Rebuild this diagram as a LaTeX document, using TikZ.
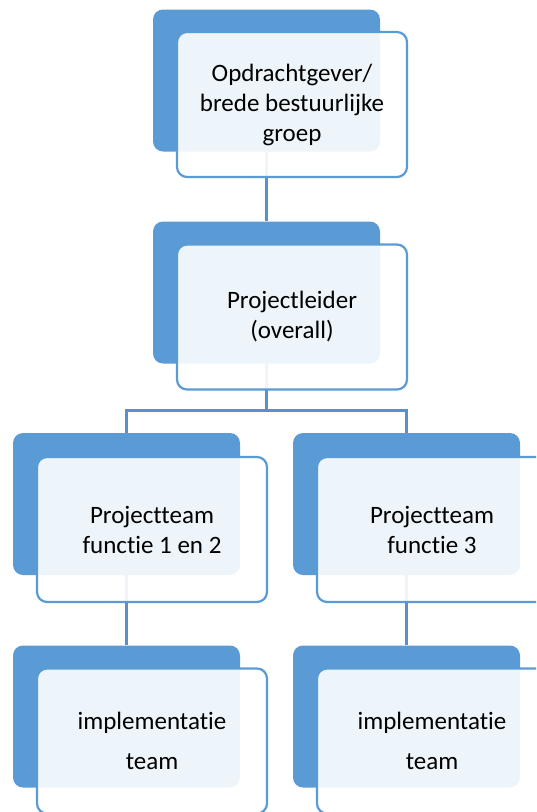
\documentclass[tikz,border=0pt]{standalone}
\usepackage{fontspec}
\setmainfont[Ligatures=NoCommon]{Carlito}
\definecolor{boxblue}{HTML}{5B9BD5}
\definecolor{lineblue}{HTML}{5A8FCB}
\usepackage{tikz}
\usetikzlibrary{positioning, calc}
\newcommand{\relation}[3]
{
	\draw[link] (#3.south) -- +(0,#1) -| (#2.north)
}

\begin{document}
\begin{tikzpicture}[x=1pt, y=-1pt,
every node/.append style={shape=rectangle, rounded corners=10pt, inner sep=0pt},
back/.style={fill=boxblue, minimum width=227pt, minimum height=142pt},
front/.style={draw=boxblue, line width=2.2pt, fill=white, fill opacity=0.9, text opacity=1,
	minimum width=230pt, minimum height=145pt, align=center, font=\fontsize{25}{30}\selectfont},
link/.style={draw=lineblue, line width=2.6pt}]

\useasboundingbox (0,0) rectangle (536,812);
\clip (0,0) rectangle (536,812);

\node[back] at (266.5, 80.5) (OG){};
\node[back] at (266.5, 292.5) (PL){};
\node[back] at (126.5, 504) (PT1){};
\node[back] at (406.5, 504) (PT2){};
\node[back] at (126.5, 716.5) (IT1){};
\node[back] at (406.5, 716.5) (IT2){};

\relation{30}{PL}{OG};
\relation{47}{PT1}{PL};
\relation{47}{PT2}{PL};
\relation{30}{IT1}{PT1};
\relation{30}{IT2}{PT2};

\node[front] at (292, 104.5) (OGt){Opdrachtgever/\\brede bestuurlijke\\groep};
\node[front] at (292, 317) (PLt){Projectleider\\(overall)};
\node[front] at (152, 529.5) (PT1t){Projectteam\\functie 1 en 2};
\node[front] at (432, 529.5) (PT2t){Projectteam\\functie 3};
\node[front, font=\fontsize{25}{40}\selectfont] at (152, 741) (IT1t){implementatie\\team};
\node[front, font=\fontsize{25}{40}\selectfont] at (432, 741) (IT2t){implementatie\\team};
\end{tikzpicture}
\end{document}
